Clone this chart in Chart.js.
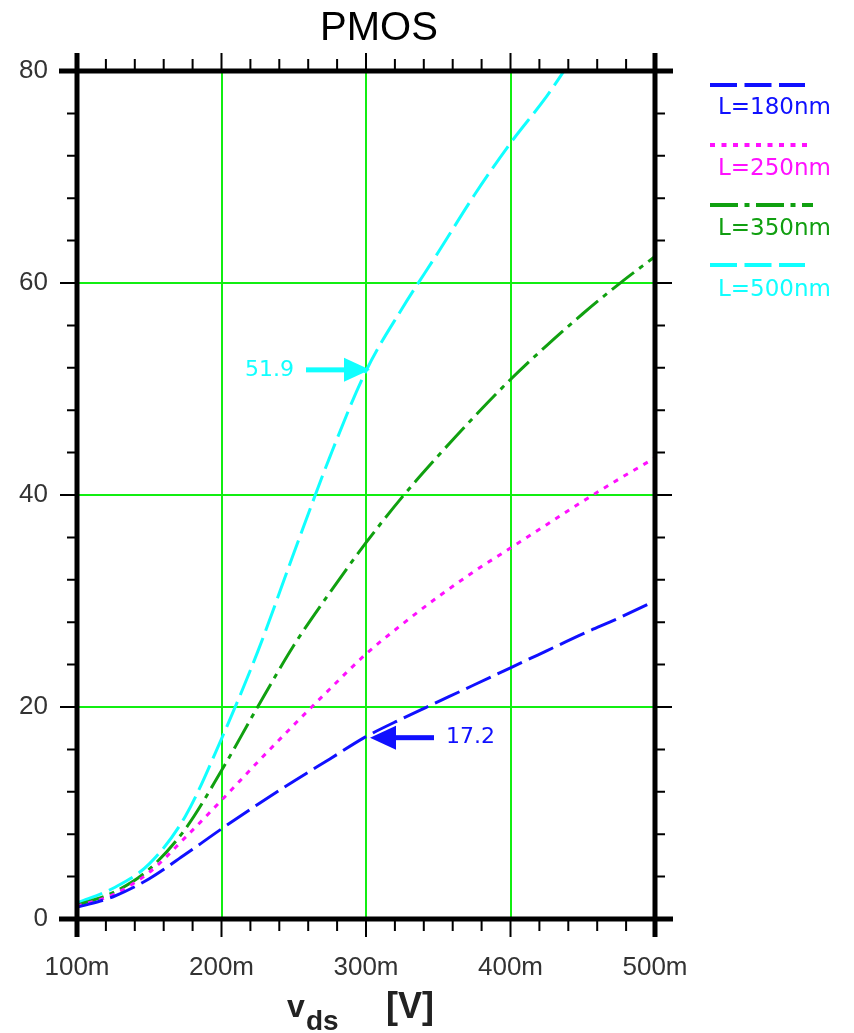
<!DOCTYPE html>
<html lang="en">
<head>
    <meta charset="UTF-8">
    <title>PMOS</title>
    <script src="https://cdn.jsdelivr.net/npm/chart.js"></script>
    <style>
        body { margin: 0; background: #fff; }
        canvas { display: block; }
    </style>
</head>
<body>
    <canvas id="pmosChart" width="854" height="1033"></canvas>

    <script>
        // x values (V) and currents for each channel length
        const vds = [0.1, 0.125, 0.15, 0.175, 0.2, 0.225, 0.25, 0.275, 0.3, 0.325, 0.35, 0.375, 0.4, 0.425, 0.45, 0.475, 0.5];
        const id180 = [1.1, 2.1, 3.8, 6.1, 8.5, 10.8, 13.0, 15.1, 17.2, 18.9, 20.5, 22.1, 23.7, 25.3, 26.9, 28.4, 30.0];
        const id250 = [1.2, 2.3, 4.4, 7.7, 11.2, 14.8, 18.3, 21.7, 25.0, 27.8, 30.4, 32.8, 35.0, 37.2, 39.4, 41.5, 43.5];
        const id350 = [1.3, 2.5, 4.7, 8.5, 14.0, 20.0, 25.8, 30.8, 35.5, 39.8, 43.7, 47.4, 50.9, 54.1, 57.1, 59.9, 62.5];
        const vds500 = [0.1, 0.125, 0.15, 0.175, 0.2, 0.225, 0.25, 0.275, 0.3, 0.325, 0.35, 0.375, 0.4, 0.425, 0.437];
        const id500 = [1.5, 2.9, 5.2, 9.7, 17.0, 25.2, 34.5, 43.6, 51.7, 57.6, 62.9, 68.3, 73.2, 77.6, 80.0];

        const seriesNames = ['L=180nm', 'L=250nm', 'L=350nm', 'L=500nm'];
        const seriesColors = ['#1010ff', '#ff10ff', '#10a010', '#10ffff'];
        const seriesDash = [[27, 7.5], [5, 6.5], [28, 6.5, 5, 6.5], [27, 7.5]];

        const xTicks = [0.1, 0.2, 0.3, 0.4, 0.5];
        const xTickLabels = ['100m', '200m', '300m', '400m', '500m'];
        const yTicks = [0, 20, 40, 60, 80];

        // marked values (x, y, label, side of the arrow)
        const marks = [
            { x: 0.3, y: 51.9, text: '51.9', side: 'left', color: '#10ffff' },
            { x: 0.3, y: 17.2, text: '17.2', side: 'right', color: '#1010ff' }
        ];

        function toPoints(xs, ys) {
            return xs.map((v, i) => ({ x: v, y: ys[i] }));
        }

        const allData = [toPoints(vds, id180), toPoints(vds, id250), toPoints(vds, id350), toPoints(vds500, id500)];

        const datasets = allData.map((d, i) => ({
            label: seriesNames[i],
            data: d,
            borderColor: seriesColors[i],
            borderWidth: 3,
            borderDash: seriesDash[i],
            pointRadius: 0,
            fill: false,
            cubicInterpolationMode: 'monotone'
        }));

        // frame, minor ticks, title, legend and arrows
        const decorations = {
            id: 'decorations',
            afterDraw(chart) {
                const ctx = chart.ctx;
                const area = chart.chartArea;
                const xs = chart.scales.x;
                const ys = chart.scales.y;
                ctx.save();

                // frame
                ctx.strokeStyle = '#000';
                ctx.lineWidth = 5;
                ctx.beginPath();
                ctx.moveTo(area.left - 18, area.top); ctx.lineTo(area.right + 18, area.top);
                ctx.moveTo(area.left - 18, area.bottom); ctx.lineTo(area.right + 18, area.bottom);
                ctx.moveTo(area.left, area.top - 18); ctx.lineTo(area.left, area.bottom + 18);
                ctx.moveTo(area.right, area.top - 18); ctx.lineTo(area.right, area.bottom + 18);
                ctx.stroke();

                // ticks
                ctx.lineWidth = 2;
                ctx.beginPath();
                for (let v = 0.1; v <= 0.5001; v += 0.02) {
                    const px = xs.getPixelForValue(v);
                    const major = Math.abs(v * 10 - Math.round(v * 10)) < 0.001;
                    const len = major ? 18 : 12;
                    ctx.moveTo(px, area.top); ctx.lineTo(px, area.top - len);
                    ctx.moveTo(px, area.bottom); ctx.lineTo(px, area.bottom + len);
                }
                for (let v = 0; v <= 80; v += 4) {
                    const py = ys.getPixelForValue(v);
                    const len = v % 20 === 0 ? 17 : 10;
                    ctx.moveTo(area.left, py); ctx.lineTo(area.left - len, py);
                    ctx.moveTo(area.right, py); ctx.lineTo(area.right + len, py);
                }
                ctx.stroke();

                // title
                ctx.fillStyle = '#000';
                ctx.font = '40px "Liberation Sans", Arial, sans-serif';
                ctx.textAlign = 'center';
                ctx.textBaseline = 'middle';
                ctx.fillText('PMOS', 379, 29);

                // x axis title
                ctx.fillStyle = '#222';
                ctx.textAlign = 'left';
                ctx.textBaseline = 'alphabetic';
                ctx.font = 'bold 32px "Liberation Sans", Arial, sans-serif';
                ctx.fillText('v', 287, 1017);
                ctx.font = 'bold 28px "Liberation Sans", Arial, sans-serif';
                ctx.fillText('ds', 306, 1030);
                ctx.font = 'bold 36px "Liberation Sans", Arial, sans-serif';
                ctx.fillText('[V]', 386, 1018);

                // legend
                ctx.font = '23px "DejaVu Sans", sans-serif';
                ctx.textBaseline = 'middle';
                const lineY = [85, 145, 205, 265];
                const textY = [108, 169, 229, 290];
                const lineEnd = [805, 812, 813, 805];
                seriesNames.forEach((name, i) => {
                    ctx.strokeStyle = seriesColors[i];
                    ctx.lineWidth = 4;
                    ctx.setLineDash(seriesDash[i]);
                    ctx.beginPath();
                    ctx.moveTo(710, lineY[i]);
                    ctx.lineTo(lineEnd[i], lineY[i]);
                    ctx.stroke();
                    ctx.setLineDash([]);
                    ctx.fillStyle = seriesColors[i];
                    ctx.fillText(name, 718, textY[i]);
                });

                // arrows with values
                ctx.font = '22px "DejaVu Sans", sans-serif';
                marks.forEach(m => {
                    const px = xs.getPixelForValue(m.x) + 4;
                    const py = ys.getPixelForValue(m.y) + 1;
                    const dir = m.side === 'left' ? -1 : 1;
                    ctx.fillStyle = m.color;
                    ctx.beginPath();
                    ctx.moveTo(px, py);
                    ctx.lineTo(px + dir * 26, py - 12);
                    ctx.lineTo(px + dir * 26, py + 12);
                    ctx.closePath();
                    ctx.fill();
                    const s0 = px + dir * 24, s1 = px + dir * 64;
                    ctx.fillRect(Math.min(s0, s1), py - 2.5, Math.abs(s1 - s0), 5);
                    ctx.textAlign = m.side === 'left' ? 'right' : 'left';
                    ctx.fillText(m.text, px + dir * 76, py);
                });

                ctx.restore();
            }
        };

        new Chart(document.getElementById('pmosChart').getContext('2d'), {
            type: 'line',
            data: { datasets: datasets },
            options: {
                responsive: false,
                animation: false,
                layout: { padding: { left: 0, right: 199, top: 71, bottom: 0 } },
                plugins: {
                    legend: { display: false },
                    tooltip: { enabled: false },
                    title: { display: false }
                },
                scales: {
                    x: {
                        type: 'linear',
                        min: 0.1,
                        max: 0.5,
                        afterFit: s => { s.height = 114; },
                        afterBuildTicks: s => { s.ticks = xTicks.map(v => ({ value: v })); },
                        ticks: {
                            padding: 33,
                            color: '#333',
                            font: { family: '"Liberation Sans", Arial, sans-serif', size: 26 },
                            callback: (v) => xTickLabels[xTicks.findIndex(t => Math.abs(t - v) < 1e-6)]
                        },
                        grid: { color: '#11ee11', lineWidth: 2, drawTicks: false },
                        border: { display: false }
                    },
                    y: {
                        type: 'linear',
                        min: 0,
                        max: 80,
                        afterFit: s => { s.width = 77; },
                        afterBuildTicks: s => { s.ticks = yTicks.map(v => ({ value: v })); },
                        ticks: {
                            padding: 29,
                            color: '#333',
                            font: { family: '"Liberation Sans", Arial, sans-serif', size: 26 }
                        },
                        grid: { color: '#11ee11', lineWidth: 2, drawTicks: false },
                        border: { display: false }
                    }
                }
            },
            plugins: [decorations]
        });
    </script>
</body>
</html>
